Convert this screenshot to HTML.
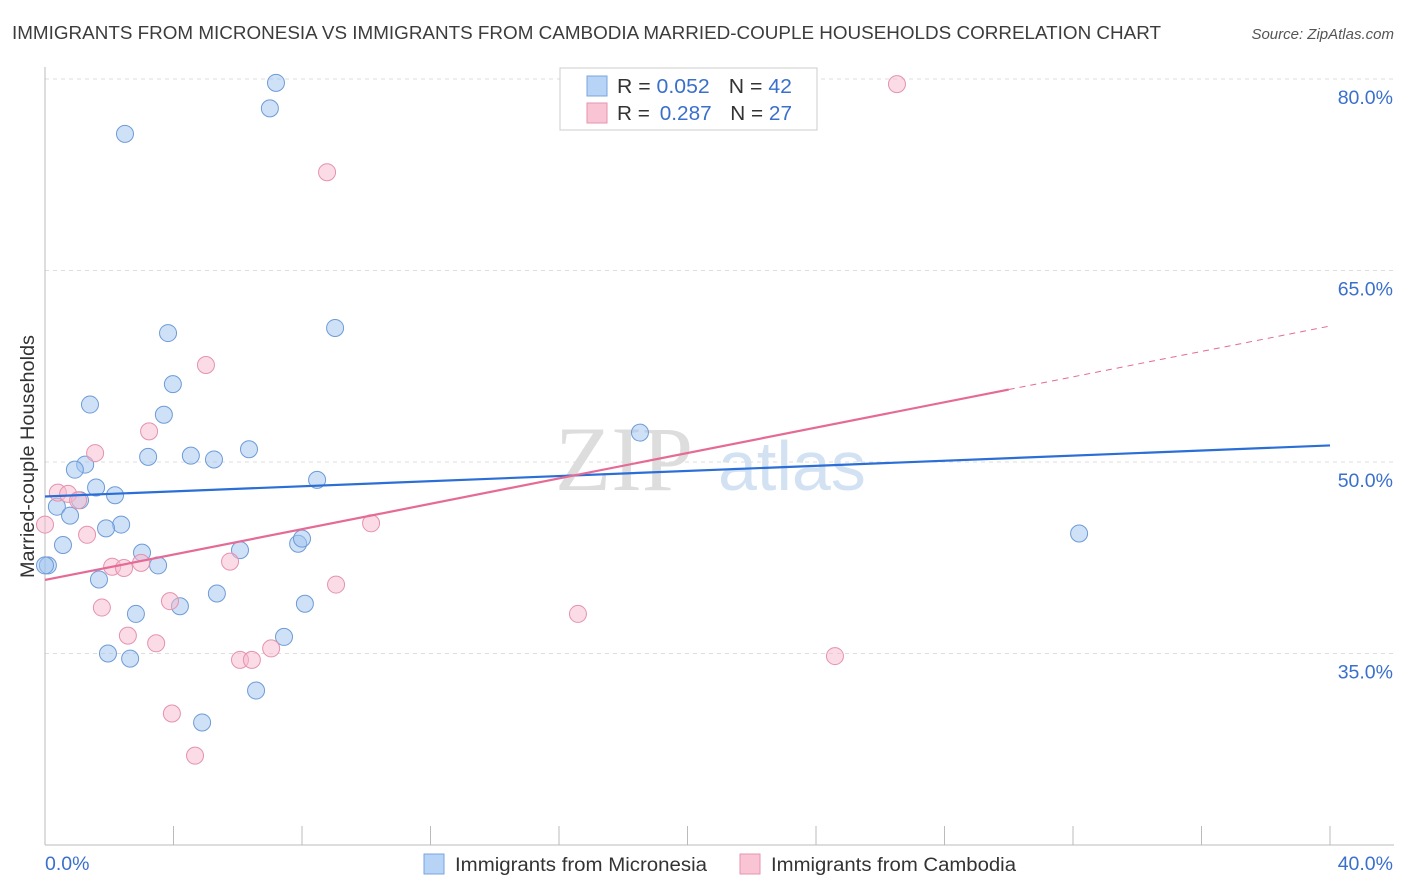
<!DOCTYPE html>
<html><head><meta charset="utf-8"><style>
body{margin:0;background:#fff;font-family:"Liberation Sans",sans-serif;}
svg{display:block}
</style></head><body>
<svg id="chart" width="1406" height="892">
<text x="12" y="39" font-size="18" fill="#3c3c3c" textLength="1149" lengthAdjust="spacingAndGlyphs">IMMIGRANTS FROM MICRONESIA VS IMMIGRANTS FROM CAMBODIA MARRIED-COUPLE HOUSEHOLDS CORRELATION CHART</text>
<text x="1394" y="39" font-size="15" fill="#555" font-style="italic" text-anchor="end">Source: ZipAtlas.com</text>
<text transform="translate(34,578) rotate(-90)" font-size="19" fill="#333" textLength="243" lengthAdjust="spacingAndGlyphs">Married-couple Households</text>
<text x="555" y="490" font-size="92" fill="#ddd" font-family="Liberation Serif,serif">ZIP</text>
<text x="718" y="490" font-size="70" fill="#d3e2f2">atlas</text>
<g id="grid"></g><g id="axes"></g><g id="pts"></g><g id="trends"></g>
<g>
<rect x="560" y="68" width="257" height="62" fill="#fff" stroke="#ccc"/>
<rect x="587" y="76" width="20" height="20" fill="#b7d3f5" stroke="#7aa6dd"/>
<rect x="587" y="103" width="20" height="20" fill="#f9c5d5" stroke="#e593ae"/>
<text x="617" y="93" font-size="20" fill="#333" textLength="175" lengthAdjust="spacingAndGlyphs">R = <tspan fill="#3a70cc">0.052</tspan><tspan dx="18">N = </tspan><tspan fill="#3a70cc">42</tspan></text>
<text x="617" y="120" font-size="20" fill="#333" textLength="175" lengthAdjust="spacingAndGlyphs">R = <tspan fill="#3a70cc" dx="4">0.287</tspan><tspan dx="18">N = </tspan><tspan fill="#3a70cc">27</tspan></text>
</g>
<g>
<rect x="424" y="854" width="20" height="20" fill="#b7d3f5" stroke="#7aa6dd"/>
<text x="455" y="871" font-size="19" fill="#333" textLength="252" lengthAdjust="spacingAndGlyphs">Immigrants from Micronesia</text>
<rect x="740" y="854" width="20" height="20" fill="#f9c5d5" stroke="#e593ae"/>
<text x="771" y="871" font-size="19" fill="#333" textLength="245" lengthAdjust="spacingAndGlyphs">Immigrants from Cambodia</text>
</g>
</svg>
<script>
const blueX=[7.19,7.00,2.49,3.83,9.03,3.98,1.40,3.70,3.21,4.54,5.26,6.35,1.25,0.93,1.59,2.18,1.09,0.37,0.78,2.37,1.90,0.56,3.02,3.52,6.07,7.88,8.00,8.47,18.52,32.19,0.09,1.68,2.83,4.20,5.35,8.09,7.44,1.96,2.65,6.57,4.89,0.0];
const blueY=[79.7,77.7,75.7,60.1,60.5,56.1,54.5,53.7,50.4,50.5,50.2,51.0,49.8,49.4,48.0,47.4,47.0,46.5,45.8,45.1,44.8,43.5,42.9,41.9,43.1,43.6,44.0,48.6,52.3,44.4,41.9,40.8,38.1,38.7,39.7,38.9,36.3,35.0,34.6,32.1,29.6,41.9];
const pinkX=[26.52,8.78,5.01,3.24,1.56,0.40,0.72,1.03,0.0,1.31,10.15,5.76,2.09,2.46,2.99,9.06,1.77,3.89,16.59,2.58,3.46,7.04,6.07,6.44,24.59,3.95,4.67];
const pinkY=[79.6,72.7,57.6,52.4,50.7,47.6,47.5,47.0,45.1,44.3,45.2,42.2,41.8,41.7,42.1,40.4,38.6,39.1,38.1,36.4,35.8,35.4,34.5,34.5,34.8,30.3,27.0];
const blueTrend=[47.3,51.3];
const pinkTrend=[40.76,60.65];
const yTicks=[80,65,50,35];
const xTickLabels=["0.0%","40.0%"];
const NS="http://www.w3.org/2000/svg";
const sx=v=>45+v*32.125, sy=v=>79+(80-v)*12.767;
function mk(t,a,p){const e=document.createElementNS(NS,t);for(const k in a)e.setAttribute(k,a[k]);p.appendChild(e);return e;}
const grid=document.getElementById('grid'),axes=document.getElementById('axes'),pts=document.getElementById('pts'),tr=document.getElementById('trends');
yTicks.forEach(v=>{
 const l=mk('line',{x1:45,x2:1394,y1:sy(v),y2:sy(v),stroke:'#ddd','stroke-dasharray':'4,4'},grid);
 
 
 const t=mk('text',{x:1393,y:sy(v)+25,'font-size':19.5,fill:'#3a70cc','text-anchor':'end'},grid);
 t.textContent=v.toFixed(1)+'%';
 
 
});
mk('line',{x1:45,x2:45,y1:67,y2:845,stroke:'#bbb'},axes);
mk('line',{x1:45,x2:1394,y1:845,y2:845,stroke:'#bbb'},axes);
for(let i=1;i<=10;i++){const tk=mk('line',{x1:sx(i*4),x2:sx(i*4),y1:826,y2:845,stroke:'#bbb'},axes);
 
 }
const t0=mk('text',{x:45,y:870,'font-size':19.5,fill:'#3a70cc'},axes);t0.textContent=xTickLabels[0];


const t1=mk('text',{x:1393,y:870,'font-size':19.5,fill:'#3a70cc','text-anchor':'end'},axes);t1.textContent=xTickLabels[1];


blueX.forEach((x,i)=>{const c=mk('circle',{cx:sx(x),cy:sy(blueY[i]),r:8.5,fill:'rgba(160,195,240,0.5)',stroke:'#6d9bd8','stroke-width':1},pts);
 
 });
pinkX.forEach((x,i)=>{const c=mk('circle',{cx:sx(x),cy:sy(pinkY[i]),r:8.5,fill:'rgba(248,185,205,0.5)',stroke:'#e592ad','stroke-width':1},pts);
 
 });
const bl=mk('line',{x1:sx(0),y1:sy(blueTrend[0]),x2:sx(40),y2:sy(blueTrend[1]),stroke:'#2a6ed6','stroke-width':2.2},tr);


const pAt=x=>pinkTrend[0]+(pinkTrend[1]-pinkTrend[0])*x/40;
const pl=mk('line',{x1:sx(0),y1:sy(pAt(0)),x2:sx(30),y2:sy(pAt(30)),stroke:'#e56a95','stroke-width':2.2},tr);


const pd=mk('line',{x1:sx(30),y1:sy(pAt(30)),x2:sx(40),y2:sy(pAt(40)),stroke:'#e56a95','stroke-width':1,'stroke-dasharray':'6,5'},tr);


</script>
</body></html>
